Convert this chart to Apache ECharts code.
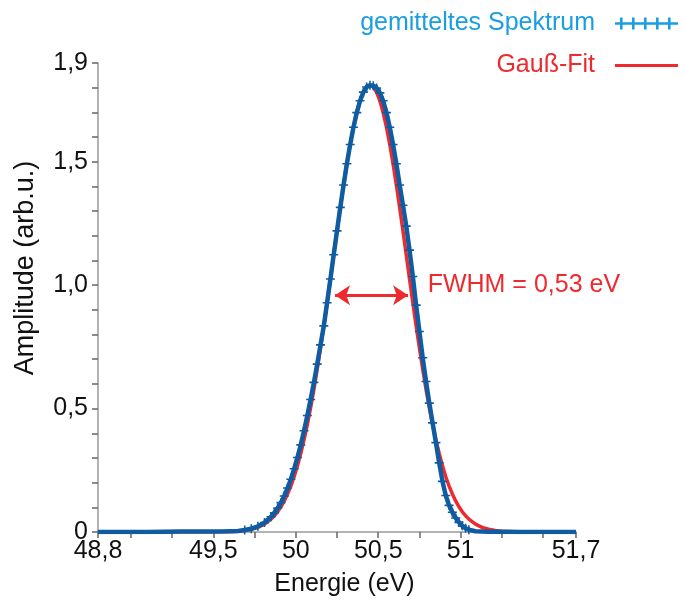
<!DOCTYPE html>
<html>
<head>
<meta charset="utf-8">
<script src="https://cdn.jsdelivr.net/npm/echarts@6/dist/echarts.min.js"></script>
<style>
  html, body { margin: 0; padding: 0; background: #ffffff; }
  #chart { width: 684px; height: 603px; }
</style>
</head>
<body>
<div id="chart"></div>
<script>
// Energy grid (eV) shared by the averaged spectrum and the Gaussian fit
const energie = [
  48.8, 48.9, 49.0, 49.1, 49.2, 49.3, 49.4, 49.5, 49.55, 49.6,
  49.65, 49.69, 49.73, 49.77, 49.81,
  49.85, 49.87, 49.89, 49.91, 49.93, 49.95, 49.97, 49.99, 50.01, 50.03,
  50.05, 50.07, 50.09, 50.11, 50.13, 50.15, 50.17, 50.19, 50.21, 50.23,
  50.25, 50.27, 50.29, 50.31, 50.33, 50.35, 50.37, 50.39, 50.41, 50.43,
  50.45,
  50.47, 50.49, 50.51, 50.53, 50.55, 50.57, 50.59, 50.61, 50.63, 50.65,
  50.67, 50.69, 50.71, 50.73, 50.75, 50.77, 50.79, 50.81, 50.83, 50.85,
  50.87, 50.89, 50.91, 50.93, 50.95, 50.97, 50.99, 51.01, 51.03, 51.05,
  51.09, 51.13, 51.17, 51.21, 51.25, 51.3, 51.35, 51.4, 51.5, 51.6, 51.7
];

// Averaged spectrum (arb. u.)
const spektrum = [
  0, 0, 0, 0, 0.001, 0.002, 0.002, 0.002, 0.002, 0.003,
  0.004, 0.008, 0.013, 0.023, 0.038,
  0.062, 0.078, 0.097, 0.119, 0.146, 0.178, 0.214, 0.256, 0.302, 0.353,
  0.410, 0.472, 0.537, 0.606, 0.680, 0.758, 0.835, 0.929, 1.025, 1.123,
  1.220, 1.315, 1.406, 1.492, 1.570, 1.640, 1.699, 1.747, 1.782, 1.803,
  1.810,
  1.808, 1.799, 1.779, 1.747, 1.699, 1.640, 1.570, 1.492, 1.406, 1.324,
  1.239, 1.142, 1.035, 0.919, 0.812, 0.706, 0.610, 0.522, 0.442, 0.362,
  0.280, 0.205, 0.148, 0.108, 0.080, 0.057, 0.039, 0.025, 0.015, 0.009,
  0.003, 0.002, 0.001, 0.001, 0.001, 0.001, 0, 0, 0, 0, 0
];

// Gaussian fit (arb. u.)
const gaussFit = [
  0, 0, 0, 0, 0, 0, 0, 0, 0.001, 0.0015,
  0.003, 0.006, 0.011, 0.019, 0.032,
  0.052, 0.066, 0.082, 0.102, 0.126, 0.154, 0.186, 0.224, 0.268, 0.318,
  0.373, 0.435, 0.504, 0.578, 0.659, 0.745, 0.835, 0.929, 1.025, 1.123,
  1.220, 1.315, 1.406, 1.492, 1.570, 1.640, 1.699, 1.747, 1.782, 1.803,
  1.810,
  1.803, 1.782, 1.747, 1.699, 1.640, 1.570, 1.492, 1.406, 1.315, 1.220,
  1.123, 1.025, 0.929, 0.835, 0.745, 0.659, 0.578, 0.504, 0.435, 0.373,
  0.318, 0.268, 0.224, 0.186, 0.154, 0.126, 0.102, 0.082, 0.066, 0.052,
  0.032, 0.019, 0.011, 0.006, 0.003, 0.0015, 0.001, 0, 0, 0, 0
];

// Axis ticks and labels
const xTicks  = [48.8, 49.0, 49.25, 49.5, 49.75, 50.0, 50.25, 50.5, 50.75, 51.0, 51.25, 51.5, 51.7];
const xLabels = [48.8, 49.5, 50, 50.5, 51, 51.7];
const yTicks  = [0, 0.1, 0.2, 0.3, 0.4, 0.5, 0.6, 0.7, 0.8, 0.9, 1.0,
                 1.1, 1.2, 1.3, 1.4, 1.5, 1.6, 1.7, 1.8, 1.9];
const yLabels = [0, 0.5, 1.0, 1.5, 1.9];

// FWHM annotation
const fwhmStart = [50.238, 0.959];
const fwhmEnd   = [50.681, 0.959];
const fwhmLabel = 'FWHM = 0,53 eV';
const fwhmLabelAt = [50.80, 1.0];

const seriesNames = ['gemitteltes Spektrum', 'Gauß-Fit'];

const FONT = "'Liberation Sans', Arial, Helvetica, sans-serif";
const BLUE_MARK = '#105ca3';
const BLUE_TEXT = '#1a9ee0';
const RED = '#ee2a2f';
const PLUS = 'path://M3.7,0H5.3V3.7H9V5.3H5.3V9H3.7V5.3H0V3.7H3.7Z';

const ICON_PLUS = 'path://M0,0M78,12M15,4.8H78V7.2H15Z' +
  'M20,0H22.6V12H20Z M32,0H34.6V12H32Z M44,0H46.6V12H44Z M56,0H58.6V12H56Z M68,0H70.6V12H68Z';
const ICON_LINE = 'path://M0,0M78,12M15,4.5H78V7.5H15Z';

const fmtX = v => String(v).replace('.', ',');
const fmtY = v => (v === 0 ? '0' : v.toFixed(1).replace('.', ','));

const chart = echarts.init(document.getElementById('chart'), null, { renderer: 'canvas' });

chart.setOption({
  animation: false,
  backgroundColor: '#ffffff',
  textStyle: { fontFamily: FONT },
  grid: { left: 98, right: 108, top: 63, bottom: 71, containLabel: false },
  legend: {
    orient: 'vertical',
    right: 1,
    top: 6,
    align: 'right',
    itemWidth: 78,
    itemHeight: 12,
    itemGap: 17,
    selectedMode: false,
    textStyle: { fontFamily: FONT, fontSize: 25 },
    data: [
      { name: seriesNames[0], icon: ICON_PLUS,
        itemStyle: { color: BLUE_TEXT, borderWidth: 0 },
        textStyle: { color: BLUE_TEXT, fontSize: 25 } },
      { name: seriesNames[1], icon: ICON_LINE,
        itemStyle: { color: RED, borderWidth: 0 },
        textStyle: { color: RED, fontSize: 25 } }
    ]
  },
  xAxis: {
    type: 'value',
    min: 48.8,
    max: 51.7,
    name: 'Energie (eV)',
    nameLocation: 'middle',
    nameGap: 40,
    nameTextStyle: { color: '#111', fontSize: 25, fontFamily: FONT, padding: [0, 0, 0, 15] },
    axisLine: { show: true, lineStyle: { color: '#9a9a9a', width: 1.5 } },
    axisTick: { show: true, customValues: xTicks, length: 6, lineStyle: { color: '#666', width: 1.5 } },
    axisLabel: { customValues: xLabels, formatter: fmtX, color: '#111', fontSize: 25, fontFamily: FONT, margin: 7 },
    splitLine: { show: false }
  },
  yAxis: {
    type: 'value',
    min: 0,
    max: 1.9,
    name: 'Amplitude (arb.u.)',
    nameLocation: 'middle',
    nameGap: 59,
    nameTextStyle: { color: '#111', fontSize: 27, fontFamily: FONT, padding: [0, 0, 0, 59] },
    axisLine: { show: true, lineStyle: { color: '#9a9a9a', width: 1.5 } },
    axisTick: { show: true, customValues: yTicks, length: 6, lineStyle: { color: '#666', width: 1.5 } },
    axisLabel: { customValues: yLabels, formatter: fmtY, color: '#111', fontSize: 25, fontFamily: FONT, margin: 10 },
    splitLine: { show: false }
  },
  series: [
    {
      name: seriesNames[1],
      type: 'line',
      z: 2,
      symbol: 'none',
      showSymbol: false,
      smooth: false,
      lineStyle: { color: RED, width: 3.5 },
      itemStyle: { color: RED },
      data: energie.map((x, i) => [x, gaussFit[i]]),
      markLine: {
        silent: true,
        symbol: ['arrow', 'arrow'],
        symbolSize: 15,
        lineStyle: { color: RED, width: 3, type: 'solid' },
        label: { show: false },
        data: [[{ coord: fwhmStart }, { coord: fwhmEnd }]]
      },
      markPoint: {
        silent: true,
        symbol: 'circle',
        symbolSize: 0,
        data: [{
          coord: fwhmLabelAt,
          label: { show: true, position: 'right', distance: 0, formatter: fwhmLabel,
                   color: RED, fontSize: 25, fontFamily: FONT }
        }]
      }
    },
    {
      name: seriesNames[0],
      type: 'line',
      z: 3,
      symbol: PLUS,
      symbolSize: 9,
      showAllSymbol: true,
      lineStyle: { color: BLUE_MARK, width: 4.5 },
      itemStyle: { color: BLUE_MARK, borderWidth: 0 },
      data: energie.map((x, i) => ({
        value: [x, spektrum[i]],
        symbol: spektrum[i] >= 0.005 ? PLUS : 'none'
      }))
    }
  ]
});
</script>
</body>
</html>
